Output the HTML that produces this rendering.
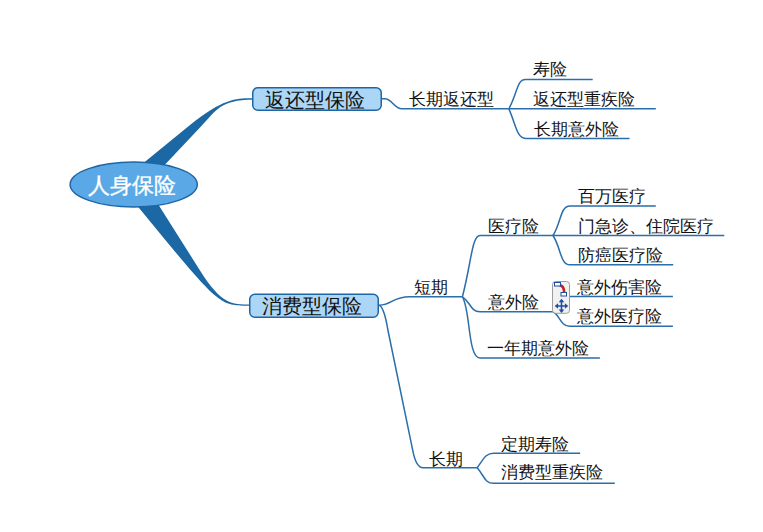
<!DOCTYPE html>
<html><head><meta charset="utf-8">
<style>
html,body{margin:0;padding:0;background:#fff;width:763px;height:532px;overflow:hidden}
body{position:relative;font-family:"Liberation Sans",sans-serif;color:#111}
svg{position:absolute;left:0;top:0}
.t{position:absolute;white-space:nowrap;line-height:1;font-size:17px}
.m{font-size:20px}
.c{font-size:22px;color:#fff;-webkit-text-stroke:0.35px #fff}
</style></head><body>
<svg width="763" height="532" viewBox="0 0 763 532">
  <g fill="#1c68a4">
    <path d="M130,174 L190,125 C223.8,97.3 238.4,98.2 253,98.2 L253,99.8 C219.9,99.8 216.9,110.1 200,127.5 L158,172 Z"/>
    <path d="M128.4,195 L160,233.4 C219.9,306.1 221.4,305.7 250,305.7 L250,304.6 C232,304.6 221.3,304.3 200,270.5 L152.3,195 Z"/>
  </g>
  <g fill="none" stroke="#2a6eac" stroke-width="1.5">
    <!-- top branch -->
    <path d="M381,98.8 L385,98.8 C392,98.8 394,108.85 402,108.85 L508.8,108.85"/>
    <path d="M508.8,108.85 C517.3,94 516.8,79.5 525.4,79.5 L592.7,79.5"/>
    <path d="M508.8,108.85 L655.8,108.85"/>
    <path d="M508.8,108.85 C515.5,123 516.7,138.4 525.4,138.4 L629.5,138.4"/>
    <!-- bottom: short -->
    <path d="M378.5,305.2 L379.3,305.2 C391.9,305.2 392.3,296.7 409.6,296.7 L462.4,296.8"/>
    <path d="M462.4,296.8 C471.5,262 471.9,235.5 480,235.5 L553,235.5"/>
    <path d="M553,235.5 C561.3,222.5 560.1,206 570,206 L655.8,206"/>
    <path d="M553,235.5 L724.3,235.5"/>
    <path d="M553,235.5 C561.3,248.5 560.1,264.8 570,264.8 L673.2,264.8"/>
    <path d="M462.4,296.8 C471,302 470.1,311.8 480,311.8 L555,311.8"/>
    <path d="M555,296.6 L672.9,296.6"/>
    <path d="M553,311.8 C559,314 560.5,326.3 569.6,326.3 L672.9,326.3"/>
    <path d="M462.4,296.8 C470.6,309.7 467.6,358 480,358 L599.9,358"/>
    <!-- bottom: long -->
    <path d="M379.3,305.2 Q384.2,307.5 387.9,330 L413,451.6 Q416.3,467.7 423,467.7 L477.2,467.7"/>
    <path d="M477.2,467.7 C483.9,458.5 485.8,453.2 493.7,453.2 L580.2,453.2"/>
    <path d="M477.2,467.7 C485,477.2 484.9,483.3 493.7,483.3 L614.8,483.3"/>
  </g>
  <!-- boxes -->
  <rect x="252.75" y="87.75" width="128.5" height="22.5" rx="5" fill="#acd6f6" stroke="#1e66a6" stroke-width="1.5"/>
  <rect x="249.75" y="294.25" width="128.5" height="23" rx="5" fill="#acd6f6" stroke="#1e66a6" stroke-width="1.5"/>
  <ellipse cx="133.7" cy="184.5" rx="63.6" ry="22.4" fill="#5aa9e6" stroke="#1f66a5" stroke-width="1.5"/>
  <!-- icon -->
  <g>
    <rect x="552.5" y="281.5" width="17" height="31.8" rx="3" fill="#f1f1f1" stroke="#9c9c9c" stroke-width="1"/>
    <path d="M559.2,285.2 C562,285.2 564.2,287.5 564.2,293" fill="none" stroke="#cc1c1c" stroke-width="2.6"/>
    <rect x="554.5" y="282.5" width="6" height="3.5" fill="#fff" stroke="#1f4ea0" stroke-width="1"/>
    <rect x="561" y="292.5" width="5.5" height="3.5" fill="#fff" stroke="#1f4ea0" stroke-width="1"/>
    <path d="M561.5,300.5 L561.5,311.5 M556.5,306 L566.5,306" stroke="#1f4ea0" stroke-width="1.6"/>
    <path d="M561.5,298.8 L558.7,302.2 L564.3,302.2 Z M561.5,312.9 L558.7,309.6 L564.3,309.6 Z M554.7,306 L558.1,303.2 L558.1,308.8 Z M568.3,306 L564.9,303.2 L564.9,308.8 Z" fill="#1f4ea0"/>
  </g>
</svg>
<div class="t c" style="left:88px;top:175px">人身保险</div>
<div class="t m" style="left:265px;top:90px">返还型保险</div>
<div class="t m" style="left:262px;top:296px">消费型保险</div>
<div class="t" style="left:409px;top:91px">长期返还型</div>
<div class="t" style="left:533px;top:61px">寿险</div>
<div class="t" style="left:533px;top:91px">返还型重疾险</div>
<div class="t" style="left:534px;top:121px">长期意外险</div>
<div class="t" style="left:414px;top:279px">短期</div>
<div class="t" style="left:488px;top:218px">医疗险</div>
<div class="t" style="left:488px;top:294px">意外险</div>
<div class="t" style="left:487px;top:340px">一年期意外险</div>
<div class="t" style="left:578px;top:188px">百万医疗</div>
<div class="t" style="left:578px;top:218px">门急诊、住院医疗</div>
<div class="t" style="left:578px;top:247px">防癌医疗险</div>
<div class="t" style="left:577px;top:279px">意外伤害险</div>
<div class="t" style="left:577px;top:308px">意外医疗险</div>
<div class="t" style="left:429px;top:451px">长期</div>
<div class="t" style="left:501px;top:436px">定期寿险</div>
<div class="t" style="left:501px;top:464px">消费型重疾险</div>
</body></html>
